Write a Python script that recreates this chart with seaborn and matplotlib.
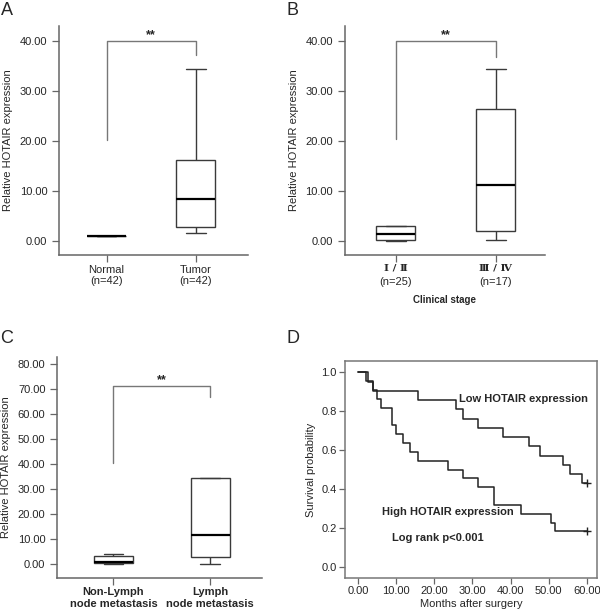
import pandas as pd
import matplotlib.pyplot as plt
import matplotlib.transforms as mtransforms
import seaborn as sns

sns.set_style('ticks')
plt.rcParams['font.family'] = ['Liberation Sans', 'DejaVu Sans', 'Noto Sans CJK SC']

# Panel A: min, q1, median, q3, max
a_groups = ['Normal', 'Tumor']
a_normal = [1.0, 1.0, 1.0, 1.0, 1.0]
a_tumor = [1.5, 2.8, 8.3, 16.1, 34.4]
a_labels = ['Normal\n(n=42)', 'Tumor\n(n=42)']

# Panel B: clinical stage
b_groups = ['I/II', 'III/IV']
b_early = [0.0, 0.05, 1.4, 2.95, 3.0]
b_late = [0.15, 1.95, 11.2, 26.4, 34.4]
b_roman = ['Ⅰ / Ⅱ', 'Ⅲ / Ⅳ']
b_counts = ['(n=25)', '(n=17)']

# Panel C: lymph node metastasis
c_groups = ['Non-Lymph', 'Lymph']
c_nonlymph = [0.0, 0.35, 0.9, 3.3, 4.0]
c_lymph = [0.0, 2.7, 11.7, 34.3, 34.5]
c_labels = ['Non-Lymph\nnode metastasis', 'Lymph\nnode metastasis']

# Panel D: Kaplan-Meier steps (months, survival)
low_t = [0, 2.7, 3.9, 15.8, 25.6, 27.6, 31.6, 37.9, 44.9, 47.8, 53.7, 55.6, 58.7, 60]
low_s = [1.0, 0.952, 0.905, 0.857, 0.810, 0.762, 0.714, 0.667, 0.619, 0.571, 0.524,
         0.476, 0.429, 0.429]
high_t = [0, 2.0, 3.9, 4.9, 6.0, 8.8, 10.1, 11.9, 13.6, 15.8, 23.7, 27.6, 31.6, 35.7,
          42.8, 50.5, 51.6, 60]
high_s = [1.0, 0.955, 0.909, 0.864, 0.818, 0.727, 0.682, 0.636, 0.591, 0.545, 0.5,
          0.455, 0.409, 0.318, 0.273, 0.227, 0.182, 0.182]

spine_col = '#666666'
line_col = '#3a3a3a'
fs = 8

fig = plt.figure(figsize=(6, 6.12), dpi=100)


def box_panel(ax, groups, v0, v1, width):
    df = pd.DataFrame({'group': [groups[0]] * len(v0) + [groups[1]] * len(v1),
                       'value': v0 + v1})
    sns.boxplot(data=df, x='group', y='value', order=groups, width=width,
                color='white', linecolor=line_col, linewidth=1, whis=(0, 100),
                fliersize=0, medianprops=dict(color='black', linewidth=1.6), ax=ax)
    sns.despine(ax=ax)
    for s in ['left', 'bottom']:
        ax.spines[s].set_color(spine_col)
        ax.spines[s].set_linewidth(1.1)
    ax.tick_params(axis='both', direction='out', color=spine_col, labelsize=fs,
                   length=5, width=0.9)
    ax.tick_params(axis='x', pad=2)
    ax.set_xlabel('')
    ax.set_ylabel('Relative HOTAIR expression', fontsize=fs, labelpad=5)


def bracket(ax, y_left, y_top, y_right):
    ax.plot([0, 0, 1, 1], [y_left, y_top, y_top, y_right], color='#777777', lw=1)
    ax.text(0.5, y_top, '**', ha='center', va='bottom', fontsize=9, fontweight='bold')


# A
axA = fig.add_axes([0.0988, 0.5833, 0.3145, 0.3742])
box_panel(axA, a_groups, a_normal, a_tumor, 0.44)
axA.set_xlim(-0.53, 1.586)
axA.set_ylim(-2.88, 43.1)
axA.set_yticks(range(0, 41, 10))
axA.set_yticklabels([f'{v:.2f}' for v in range(0, 41, 10)])
axA.set_xticks([0, 1])
axA.set_xticklabels(a_labels)
bracket(axA, 20.2, 40, 37.3)

# B
axB = fig.add_axes([0.575, 0.5833, 0.3333, 0.3742])
box_panel(axB, b_groups, b_early, b_late, 0.39)
axB.set_xlim(-0.51, 1.49)
axB.set_ylim(-2.88, 43.1)
axB.set_yticks(range(0, 41, 10))
axB.set_yticklabels([f'{v:.2f}' for v in range(0, 41, 10)])
axB.set_xticks([0, 1])
axB.set_xticklabels(b_counts)
axB.tick_params(axis='x', pad=10.5)
trans = mtransforms.blended_transform_factory(axB.transData, axB.transAxes)
for i, r in enumerate(b_roman):
    axB.text(i, -0.057, r, transform=trans, ha='center', va='center', fontsize=7.5,
             fontweight='bold', family=['DejaVu Serif', 'Noto Sans CJK SC'])
axB.text(0.5, -0.197, 'Clinical stage', transform=axB.transAxes, ha='center',
         va='center', fontsize=7, fontweight='bold')
bracket(axB, 20.5, 40, 36.9)

# C
axC = fig.add_axes([0.0955, 0.0560, 0.3407, 0.3611])
box_panel(axC, c_groups, c_nonlymph, c_lymph, 0.41)
axC.set_xlim(-0.58, 1.53)
axC.set_ylim(-5.47, 82.9)
axC.set_yticks(range(0, 81, 10))
axC.set_yticklabels([f'{v:.2f}' for v in range(0, 81, 10)])
axC.set_xticks([0, 1])
axC.set_xticklabels(c_labels, fontweight='bold')
bracket(axC, 40.5, 71.2, 66.9)

# D
axD = fig.add_axes([0.575, 0.0559, 0.4195, 0.3541])
axD.step(low_t, low_s, where='post', color='#222222', lw=1.1)
axD.step(high_t, high_s, where='post', color='#222222', lw=1.1)
axD.plot([low_t[-1]], [low_s[-1]], marker='+', color='#222222', ms=6, mew=1)
axD.plot([high_t[-1]], [high_s[-1]], marker='+', color='#222222', ms=6, mew=1)
axD.set_xlim(-3.4, 62.6)
axD.set_ylim(-0.057, 1.058)
axD.set_xticks(range(0, 61, 10))
axD.set_xticklabels([f'{v:.2f}' for v in range(0, 61, 10)])
axD.set_yticks([0, 0.2, 0.4, 0.6, 0.8, 1.0])
axD.set_yticklabels([f'{v:.1f}' for v in [0, 0.2, 0.4, 0.6, 0.8, 1.0]])
for s in axD.spines.values():
    s.set_color('#777777')
    s.set_linewidth(1.1)
axD.tick_params(axis='both', direction='out', color=spine_col, labelsize=fs,
                length=4, width=0.9, pad=2)
axD.set_xlabel('Months after surgery', fontsize=fs, labelpad=2)
axD.set_ylabel('Survival probability', fontsize=fs, labelpad=4)
axD.text(26.5, 0.861, 'Low HOTAIR expression', fontsize=fs, fontweight='bold', va='center')
axD.text(6.2, 0.28, 'High HOTAIR expression', fontsize=fs, fontweight='bold', va='center')
axD.text(8.8, 0.146, 'Log rank p<0.001', fontsize=fs, fontweight='bold', va='center')

# panel letters
for letter, x, y in [('A', 0.002, 0.997), ('B', 0.477, 0.997),
                     ('C', 0.0, 0.46), ('D', 0.477, 0.46)]:
    fig.text(x, y, letter, fontsize=13, va='top', ha='left')

fig.savefig('out.png', dpi=100)
